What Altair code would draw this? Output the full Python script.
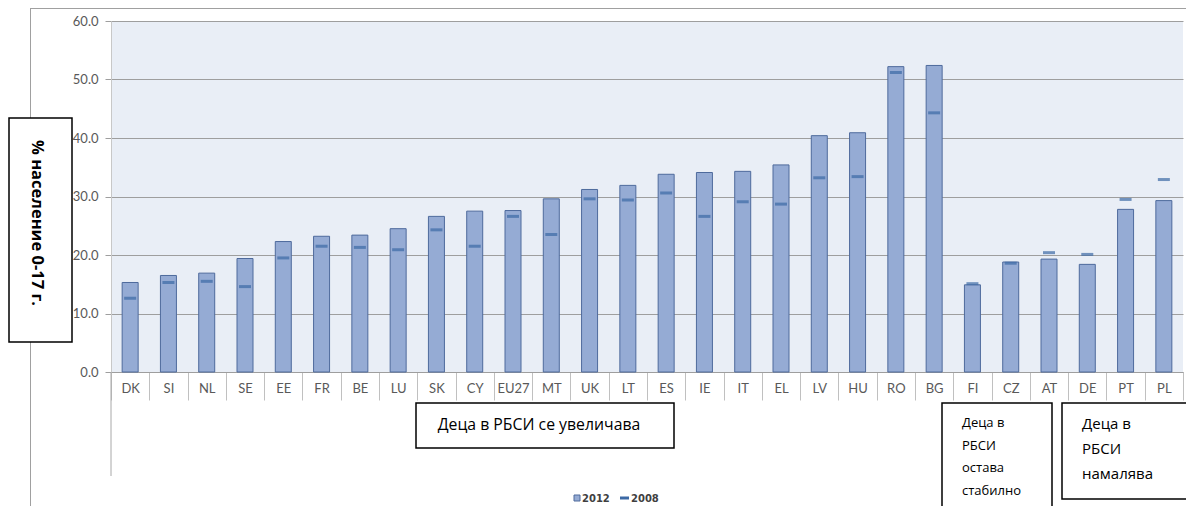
import altair as alt
import pandas as pd

countries = ["DK", "SI", "NL", "SE", "EE", "FR", "BE", "LU", "SK", "CY", "EU27", "MT",
             "UK", "LT", "ES", "IE", "IT", "EL", "LV", "HU", "RO", "BG", "FI", "CZ",
             "AT", "DE", "PT", "PL"]
values_2012 = [15.3, 16.5, 16.9, 19.4, 22.3, 23.2, 23.4, 24.5, 26.6, 27.5, 27.6, 29.6,
               31.2, 31.9, 33.8, 34.1, 34.3, 35.4, 40.4, 40.9, 52.2, 52.4, 14.9, 18.8,
               19.3, 18.4, 27.8, 29.3]
values_2008 = [12.6, 15.3, 15.5, 14.6, 19.5, 21.5, 21.3, 20.9, 24.3, 21.5, 26.6, 23.5,
               29.6, 29.4, 30.6, 26.6, 29.1, 28.7, 33.2, 33.4, 51.2, 44.3, 15.1, 18.6,
               20.4, 20.1, 29.5, 32.9]
y_ticks = [0, 10, 20, 30, 40, 50, 60]

y_title = "% население  0-17 г."
note_up = "Деца в РБСИ се увеличава"
note_stable = "Деца в\nРБСИ\nостава\nстабилно"
note_down = "Деца в\nРБСИ\nнамалява"
legend_labels = ["2012", "2008"]

df = pd.DataFrame({"country": countries, "v2012": values_2012, "v2008": values_2008})
one = pd.DataFrame({"k": [0]})

BAR_FILL = "#95ABD4"
BAR_STROKE = "#4E6A9C"
TICK_COLOR = "#3C69A5"
GRID = "#9E9E9E"
LABEL = "#595959"

x_enc = alt.X("country:N", sort=countries,
              scale=alt.Scale(paddingInner=0, paddingOuter=0),
              axis=alt.Axis(title=None, labelAngle=0, tickBand="extent", tickSize=28,
                            tickColor="#C0C0C0", labelPadding=-18, domainColor=GRID,
                            labelFont="Lato", labelFontSize=13, labelColor=LABEL))
y_scale = alt.Scale(domain=[0, 60], nice=False)

base = alt.Chart(df)
bars = base.mark_bar(width=16, color=BAR_FILL, stroke=BAR_STROKE, strokeWidth=1).encode(
    x=x_enc,
    y=alt.Y("v2012:Q", scale=y_scale,
            axis=alt.Axis(title=None, values=y_ticks, format=".1f", grid=True, gridColor=GRID,
                          tickSize=6, tickColor=GRID, labelPadding=7, domainColor="#C8C8C8",
                          labelFont="Lato", labelFontSize=13, labelColor=LABEL)),
)
ticks = base.mark_tick(thickness=3, size=12, color=TICK_COLOR).encode(
    x=alt.X("country:N", sort=countries),
    y=alt.Y("v2008:Q", scale=y_scale, title=None),
)

o = alt.Chart(one)
# outer chart border
border_left = o.mark_rule(color="#A0A0A0", strokeWidth=1).encode(
    x=alt.value(-80.5), y=alt.value(-13), y2=alt.value(500))
border_top = o.mark_rule(color="#A0A0A0", strokeWidth=1).encode(
    x=alt.value(-80.5), x2=alt.value(1100), y=alt.value(-12.5))
axis_left_line = o.mark_rule(color="#A8A8A8", strokeWidth=1).encode(
    x=alt.value(0), y=alt.value(351), y2=alt.value(455))

# y title box
ybox = o.mark_rect(fill="white", stroke="black", strokeWidth=1.5).encode(
    x=alt.value(-102), x2=alt.value(-39), y=alt.value(97), y2=alt.value(321))
ytext = o.mark_text(angle=90, font="Open Sans", fontWeight="bold", fontSize=16.5,
                    color="black", align="center", baseline="middle").encode(
    x=alt.value(-74), y=alt.value(202), text=alt.value(y_title))

# annotation boxes
box1 = o.mark_rect(fill="white", stroke="black", strokeWidth=1.5).encode(
    x=alt.value(305), x2=alt.value(563), y=alt.value(382), y2=alt.value(427))
text1 = o.mark_text(font="Open Sans", fontSize=15.8, color="black", align="center",
                    baseline="middle").encode(
    x=alt.value(428), y=alt.value(404), text=alt.value(note_up))
box2 = o.mark_rect(fill="white", stroke="black", strokeWidth=1.5).encode(
    x=alt.value(831), x2=alt.value(941), y=alt.value(382), y2=alt.value(488))
text2 = o.mark_text(font="Open Sans", fontSize=13, color="black", align="left",
                    baseline="top", lineBreak="\n", lineHeight=22.5).encode(
    x=alt.value(851), y=alt.value(396), text=alt.value(note_stable))
box3 = o.mark_rect(fill="white", stroke="black", strokeWidth=1.5).encode(
    x=alt.value(951), x2=alt.value(1100), y=alt.value(382), y2=alt.value(478))
text3 = o.mark_text(font="Open Sans", fontSize=15, color="black", align="left",
                    baseline="top", lineBreak="\n", lineHeight=25).encode(
    x=alt.value(971), y=alt.value(396), text=alt.value(note_down))

# legend
leg_sq = o.mark_rect(fill=BAR_FILL, stroke=BAR_STROKE, strokeWidth=1).encode(
    x=alt.value(463), x2=alt.value(469), y=alt.value(474), y2=alt.value(480))
leg_t1 = o.mark_text(font="DejaVu Sans", fontWeight="bold", fontSize=10, color="#404040",
                     align="left", baseline="middle").encode(
    x=alt.value(471), y=alt.value(477.5), text=alt.value(legend_labels[0]))
leg_dash = o.mark_rule(color=TICK_COLOR, strokeWidth=3).encode(
    x=alt.value(509), x2=alt.value(518), y=alt.value(477))
leg_t2 = o.mark_text(font="DejaVu Sans", fontWeight="bold", fontSize=10, color="#404040",
                     align="left", baseline="middle").encode(
    x=alt.value(520), y=alt.value(477.5), text=alt.value(legend_labels[1]))

chart = alt.layer(
    bars, ticks, border_left, border_top, axis_left_line, ybox, ytext,
    box1, text1, box2, text2, box3, text3, leg_sq, leg_t1, leg_dash, leg_t2,
).properties(
    width=1072, height=351,
    autosize=alt.AutoSizeParams(type="none"),
    padding={"left": 103, "top": 13, "right": 3, "bottom": 134},
    background="white",
).configure_view(fill="#E9EEF6", strokeWidth=0)

chart.save("out.html", embed_options={"renderer": "svg", "actions": False})
